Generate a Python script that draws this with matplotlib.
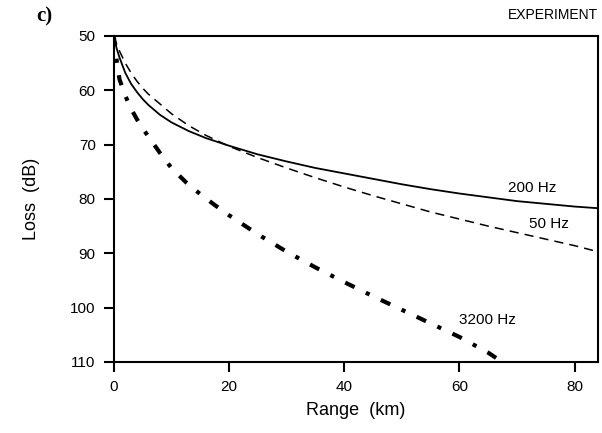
import matplotlib.pyplot as plt
import numpy as np

# range (km) / loss (dB)
range_200 = [0, 0.5, 1, 2, 3, 4, 5, 6, 8, 10, 13, 16, 20, 25, 30, 35, 40,
             45, 50, 55, 60, 65, 70, 75, 80, 84]
loss_200 = [50, 52.3, 54, 56.8, 58.8, 60.3, 61.6, 62.7, 64.5, 65.9, 67.5,
            68.8, 70.2, 71.8, 73.1, 74.3, 75.3, 76.3, 77.3, 78.2, 79.0,
            79.7, 80.4, 80.9, 81.4, 81.7]

range_50 = [0, 0.5, 1, 2, 3, 4, 5, 6, 8, 10, 13, 16, 20, 25, 30, 35, 40,
            45, 50, 55, 60, 65, 70, 75, 80, 84]
loss_50 = [50, 51.5, 52.8, 55, 56.8, 58.3, 59.6, 60.7, 62.5, 64.3, 66.5,
           68.3, 70.3, 72.4, 74.3, 76.1, 77.8, 79.4, 80.9, 82.4, 83.7,
           85.0, 86.2, 87.4, 88.6, 89.7]

range_3200 = [0, 0.3, 0.7, 1, 2, 3, 4, 5, 6, 8, 10, 12.6, 15, 17.5, 20, 25,
              30, 35, 40, 45, 50, 55, 60, 65, 67.4]
loss_3200 = [50, 53, 56, 58, 61, 63.4, 65.3, 67, 68.5, 71.5, 74.3, 77.0,
             79.1, 81.1, 83.0, 86.5, 89.7, 92.6, 95.3, 97.9, 100.4, 102.9,
             105.4, 108.3, 110]

x_ticks = [0, 20, 40, 60, 80]
y_ticks = [50, 60, 70, 80, 90, 100, 110]

plt.rcParams["font.family"] = ["Liberation Sans", "DejaVu Sans"]

fig = plt.figure(figsize=(6.02, 4.33), dpi=100)
ax = fig.add_axes([0.189, 0.164, 0.804, 0.753])

ax.plot(range_200, loss_200, color="black", lw=1.3)
ax.plot(range_50, loss_50, color="black", lw=1.1, dashes=(6, 4))
ax.plot(range_3200, loss_3200, color="black", lw=3.0, dashes=(2.5, 3, 1, 3))

ax.text(68.5, 78.8, "200 Hz", fontsize=11)
ax.text(72, 85.3, "50 Hz", fontsize=11)
ax.text(60, 103, "3200 Hz", fontsize=11)

ax.set_xlim(0, 84)
ax.set_ylim(110, 50)
ax.set_xticks(x_ticks)
ax.set_yticks(y_ticks)
ax.tick_params(direction="out", length=7, width=1.5, labelsize=11, pad=6)
for sp in ax.spines.values():
    sp.set_linewidth(1.5)

ax.set_xlabel("Range  (km)", fontsize=13, labelpad=6)
ax.set_ylabel("Loss  (dB)", fontsize=13, labelpad=22)

fig.text(0.993, 0.965, "EXPERIMENT", ha="right", va="center", fontsize=10)
fig.text(0.06, 0.962, "c)", ha="left", va="center", fontsize=15,
         family="Liberation Serif", weight="bold")

fig.savefig("out.png", dpi=100)
